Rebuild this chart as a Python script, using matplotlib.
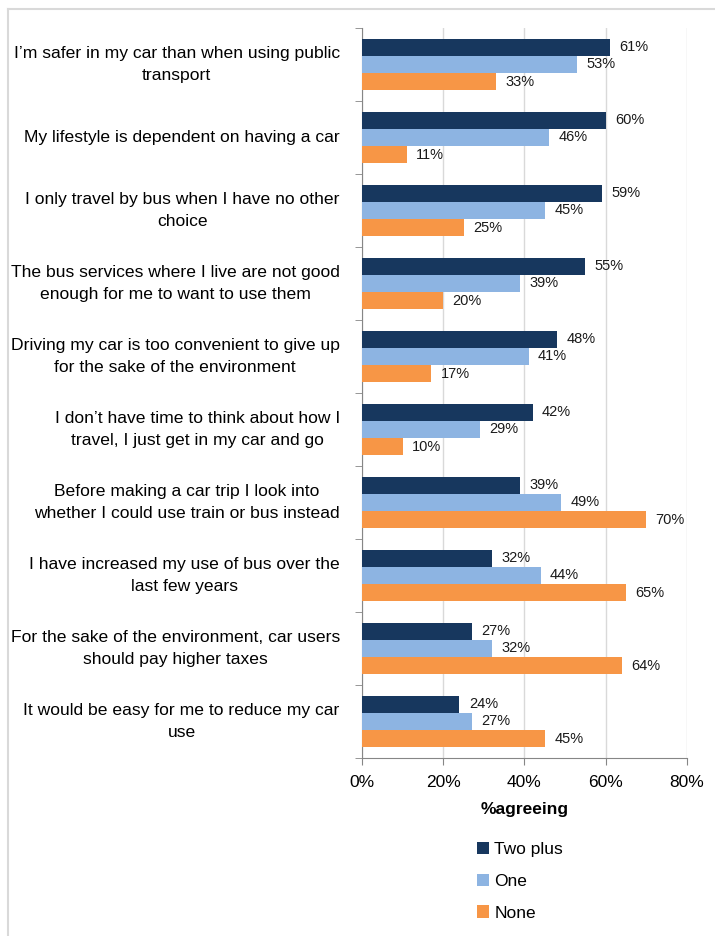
import numpy as np
import matplotlib.pyplot as plt
from matplotlib.lines import Line2D
from matplotlib.ticker import FixedLocator, PercentFormatter

plt.rcParams['font.family'] = ['Liberation Sans', 'DejaVu Sans']

statements = [
    "I\u2019m safer in my car than when using public\ntransport",
    "My lifestyle is dependent on having a car",
    "I only travel by bus when I have no other\nchoice",
    "The bus services where I live are not good\nenough for me to want to use them",
    "Driving my car is too convenient to give up\nfor the sake of the environment",
    "I don\u2019t have time to think about how I\ntravel, I just get in my car and go",
    "Before making a car trip I look into\nwhether I could use train or bus instead",
    "I have increased my use of bus over the\nlast few years",
    "For the sake of the environment, car users\nshould pay higher taxes",
    "It would be easy for me to reduce my car\nuse",
]
series_names = ["Two plus", "One", "None"]
two_plus = [61, 60, 59, 55, 48, 42, 39, 32, 27, 24]
one_car = [53, 46, 45, 39, 41, 29, 49, 44, 32, 27]
no_car = [33, 11, 25, 20, 17, 10, 70, 65, 64, 45]
colors = ["#17375E", "#8DB4E2", "#F79646"]
x_ticks = [0, 20, 40, 60, 80]

fig = plt.figure(figsize=(7.15, 9.36), dpi=100)
ax = fig.add_axes([0.5063, 0.1902, 0.4545, 0.7799])

y = np.arange(len(statements))
h = 0.235
for k, (vals, name, col) in enumerate(zip([two_plus, one_car, no_car], series_names, colors)):
    pos = y + (k - 1) * h
    ax.barh(pos, vals, height=h, color=col, label=name, zorder=3)
    for yy, v in zip(pos, vals):
        ax.text(v + 2.3, yy, f"{v}%", va='center', ha='left', fontsize=10.5, color='#1a1a1a')

ax.set_xlim(0, 80)
ax.set_ylim(len(statements) - 0.5, -0.5)
ax.xaxis.set_major_locator(FixedLocator(x_ticks))
ax.xaxis.set_major_formatter(PercentFormatter(decimals=0))
ax.grid(axis='x', color='#D9D9D9', linewidth=1, zorder=0)

ax.set_yticks(y)
ax.set_yticklabels(statements, ha='right', va='center', multialignment='center',
                   fontsize=12.6, linespacing=1.65)
ax.set_yticks(np.arange(len(statements) + 1) - 0.5, minor=True)
ax.tick_params(axis='y', which='major', length=0, pad=16)
ax.tick_params(axis='y', which='minor', length=5, color='#868686', direction='out')
ax.tick_params(axis='x', length=5, color='#868686', labelsize=12.5, pad=7)

for side in ['top', 'right']:
    ax.spines[side].set_visible(False)
for side in ['left', 'bottom']:
    ax.spines[side].set_color('#868686')

ax.set_xlabel("%agreeing", fontsize=12.5, fontweight='bold', labelpad=9)

fig.legend(loc='upper left', bbox_to_anchor=(0.645, 0.117), frameon=False, fontsize=12.5,
           handlelength=0.7, handleheight=0.7, handletextpad=0.3, labelspacing=0.95)

# light frame around the chart area
fig.add_artist(Line2D([0.011, 0.011], [0, 0.990], transform=fig.transFigure, color='#D9D9D9', lw=1.5))
fig.add_artist(Line2D([0.011, 1], [0.990, 0.990], transform=fig.transFigure, color='#D9D9D9', lw=1.5))

fig.savefig('out.png', dpi=100)
